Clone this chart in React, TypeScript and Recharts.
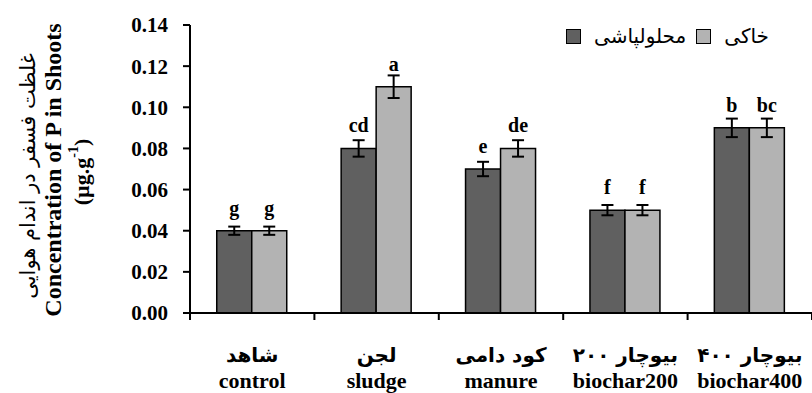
import React from 'react';
import { BarChart, Bar, XAxis, YAxis, ErrorBar, LabelList, Legend } from 'recharts';

const categories = ['control', 'sludge', 'manure', 'biochar200', 'biochar400'];
const categoriesFa = ['شاهد', 'لجن', 'کود دامی', 'بیوچار ۲۰۰', 'بیوچار ۴۰۰'];
const foliar = [0.04, 0.08, 0.07, 0.05, 0.09];
const soil = [0.04, 0.11, 0.08, 0.05, 0.09];
const foliarErr = [0.002, 0.004, 0.0035, 0.0025, 0.0045];
const soilErr = [0.002, 0.0055, 0.004, 0.0025, 0.0045];
const foliarLetters = ['g', 'cd', 'e', 'f', 'b'];
const soilLetters = ['g', 'a', 'de', 'f', 'bc'];
const yTicks = [0, 0.02, 0.04, 0.06, 0.08, 0.1, 0.12, 0.14];
const seriesNames = ['محلولپاشی', 'خاکی'];
const seriesColors = ['#606060', '#b3b3b3'];

const data = categories.map((c, i) => ({
  name: c,
  fa: categoriesFa[i],
  foliar: foliar[i],
  soil: soil[i],
  foliarErr: foliarErr[i],
  soilErr: soilErr[i],
  foliarLetter: foliarLetters[i],
  soilLetter: soilLetters[i],
}));

const W = 812;
const H = 393;
const Y_AXIS_W = 190;
const X_AXIS_H = 80;
const HALF_BAND = (W - Y_AXIS_W) / categories.length / 2;

const serif = '"Liberation Serif", "Times New Roman", serif';
const persian = '"DejaVu Sans", sans-serif';

const XTick = (props: any) => {
  const { x, y, payload, index } = props;
  const i = categories.indexOf(payload.value);
  return (
    <g>
      <line x1={x - HALF_BAND} y1={y} x2={x - HALF_BAND} y2={y + 7} stroke="#000" strokeWidth={2} />
      {index === categories.length - 1 && (
        <line x1={x + HALF_BAND} y1={y} x2={x + HALF_BAND} y2={y + 7} stroke="#000" strokeWidth={2} />
      )}
      <text x={x} y={y + 49} textAnchor="middle" fontFamily={persian} fontWeight="bold" fontSize={20} fill="#000" direction="rtl">
        {categoriesFa[i]}
      </text>
      <text x={x} y={y + 75} textAnchor="middle" fontFamily={serif} fontWeight="bold" fontSize={22} fill="#000">
        {payload.value}
      </text>
    </g>
  );
};

const YTitle = () => {
  const cy = 172;
  return (
    <g>
      <text transform={`translate(28, ${cy + 4}) rotate(-90)`} textAnchor="middle" dominantBaseline="central" fontFamily={persian} fontSize={21} fill="#000" direction="rtl">
        غلظت فسفر در اندام هوایی
      </text>
      <text transform={`translate(53, ${cy - 2}) rotate(-90)`} textAnchor="middle" dominantBaseline="central" fontFamily={serif} fontWeight="bold" fontSize={24} fill="#000">
        Concentration of P in Shoots
      </text>
      <text transform={`translate(81, ${cy}) rotate(-90)`} textAnchor="middle" dominantBaseline="central" fontFamily={serif} fontWeight="bold" fontSize={22} fill="#000">
        (µg.g<tspan dy={-8} fontSize={14}>-1</tspan><tspan dy={8}>)</tspan>
      </text>
    </g>
  );
};

const LegendContent = () => (
  <div style={{ display: 'flex', alignItems: 'center', fontFamily: persian, fontSize: 20, color: '#000' }}>
    {seriesNames.map((n, i) => (
      <div key={n} style={{ display: 'flex', alignItems: 'center', marginRight: i === 0 ? 10 : 0 }}>
        <div style={{ width: 13, height: 13, background: seriesColors[i], border: '1.5px solid #000' }} />
        <span style={{ direction: 'rtl', marginLeft: 13, lineHeight: '22px' }}>{n}</span>
      </div>
    ))}
  </div>
);

const labelStyle = { fontFamily: serif, fontWeight: 'bold' as const, fontSize: 20, fill: '#000' };

export default function App() {
  return (
    <div style={{ position: 'absolute', left: 0, top: 0, width: W, height: H, background: '#fff' }}>
      <BarChart
        width={W}
        height={H}
        data={data}
        margin={{ top: 25, right: 0, left: 0, bottom: 0 }}
        barCategoryGap="21.5%"
        barGap={0}
      >
        <XAxis
          dataKey="name"
          height={X_AXIS_H}
          axisLine={{ stroke: '#000', strokeWidth: 2 }}
          tickLine={false}
          tickSize={0}
          tickMargin={0}
          tick={<XTick />}
          interval={0}
        />
        <YAxis
          width={Y_AXIS_W}
          domain={[0, 0.14]}
          ticks={yTicks}
          interval={0}
          tickFormatter={(v: number) => v.toFixed(2)}
          axisLine={{ stroke: '#000', strokeWidth: 2 }}
          tickLine={{ stroke: '#000', strokeWidth: 2 }}
          tickSize={7}
          tickMargin={15}
          tick={{ fontFamily: serif, fontWeight: 'bold', fontSize: 21, fill: '#000' }}
          label={<YTitle />}
        />
        <Legend
          layout="horizontal"
          verticalAlign="middle"
          align="center"
          content={<LegendContent />}
          wrapperStyle={{ position: 'absolute', top: 25, left: 566, width: 230, height: 24 }}
        />
        <Bar dataKey="foliar" name={seriesNames[0]} fill={seriesColors[0]} stroke="#000" strokeWidth={1.5} isAnimationActive={false}>
          <ErrorBar dataKey="foliarErr" width={6} stroke="#000" strokeWidth={2} direction="y" />
          <LabelList dataKey="foliarLetter" position="top" offset={16} style={labelStyle} />
        </Bar>
        <Bar dataKey="soil" name={seriesNames[1]} fill={seriesColors[1]} stroke="#000" strokeWidth={1.5} isAnimationActive={false}>
          <ErrorBar dataKey="soilErr" width={6} stroke="#000" strokeWidth={2} direction="y" />
          <LabelList dataKey="soilLetter" position="top" offset={16} style={labelStyle} />
        </Bar>
      </BarChart>
    </div>
  );
}
